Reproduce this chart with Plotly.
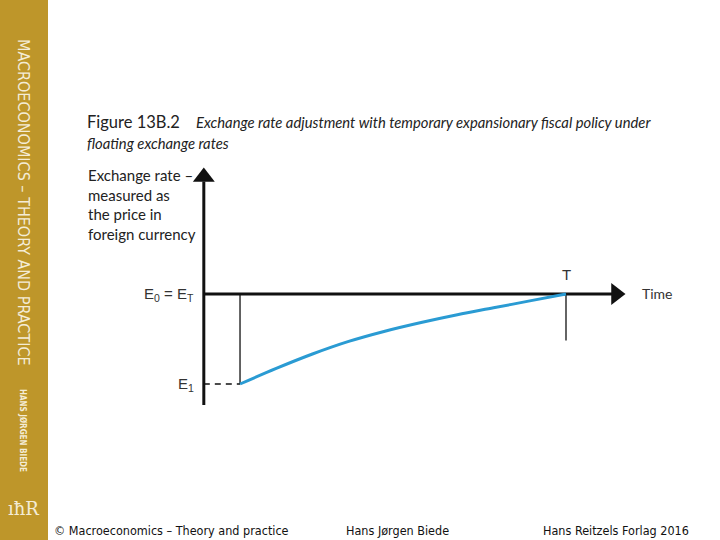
import plotly.graph_objects as go

# ---- data (economic units) ----
time_points = [1, 2, 3, 4, 5, 6, 7, 8, 9, 10]
exchange_rate = [0.70, 0.752, 0.80, 0.842, 0.876, 0.905, 0.931, 0.954, 0.977, 1.0]
E0 = 1.0
E1 = 0.70
T_time = 10
shock_time = 1
T_drop_low = 0.845
y_axis_bottom = 0.63
y_axis_top = 1.375
x_axis_end = 11.35

# axis ranges chosen so the diagram sits where it does in the reference
x_range = [-5.627, 14.252]
y_range = [0.18, 1.98]

fig = go.Figure()

black = "#111111"
# vertical axis
fig.add_trace(go.Scatter(x=[0, 0], y=[y_axis_bottom, y_axis_top], mode="lines",
                         line=dict(color=black, width=3), hoverinfo="skip"))
fig.add_trace(go.Scatter(x=[0], y=[1.39], mode="markers",
                         marker=dict(symbol="triangle-up", size=19, color=black), hoverinfo="skip"))
# horizontal axis at E0
fig.add_trace(go.Scatter(x=[0, x_axis_end], y=[E0, E0], mode="lines",
                         line=dict(color=black, width=3), hoverinfo="skip"))
fig.add_trace(go.Scatter(x=[11.38], y=[E0], mode="markers",
                         marker=dict(symbol="triangle-right", size=19, color=black), hoverinfo="skip"))
# drop line at shock time
fig.add_trace(go.Scatter(x=[shock_time, shock_time], y=[E0, E1], mode="lines",
                         line=dict(color=black, width=1.3), hoverinfo="skip"))
# dashed line at E1
fig.add_trace(go.Scatter(x=[0, shock_time], y=[E1, E1], mode="lines",
                         line=dict(color=black, width=1.3, dash="6px,5px"), hoverinfo="skip"))
# drop line at T
fig.add_trace(go.Scatter(x=[T_time, T_time], y=[E0, T_drop_low], mode="lines",
                         line=dict(color=black, width=1.3), hoverinfo="skip"))
# adjustment path
fig.add_trace(go.Scatter(x=time_points, y=exchange_rate, mode="lines",
                         line=dict(color="#2A9BD3", width=3, shape="spline", smoothing=1.0),
                         hoverinfo="skip"))

W, H = 720, 540
def px(x):
    return x / W
def py(y):
    return 1 - y / H

annotations = []
def note(x, y, text, size, family, color, xanchor="left", yanchor="middle", angle=0, align="left"):
    annotations.append(dict(x=px(x), y=py(y), xref="paper", yref="paper",
                            xanchor=xanchor, yanchor=yanchor, textangle=angle, align=align,
                            text=text, showarrow=False,
                            font=dict(family=family, size=size, color=color)))

side_font = "DejaVu Sans Condensed, Liberation Sans Narrow, Arial Narrow, sans-serif"
side_col = "#F4ECD6"
note(23, 202, "MACROECONOMICS – THEORY AND PRACTICE", 16, side_font, side_col, xanchor="center", angle=90)
note(23, 430, "<b>HANS JØRGEN BIEDE</b>", 8, side_font, side_col, xanchor="center", angle=90)
note(23, 509, "ıħR", 18, "DejaVu Serif, serif", side_col, xanchor="center")

title_font = "Lato, Open Sans, sans-serif"
note(85, 122, "Figure 13B.2", 16.5, title_font, "#222222")
note(194, 122, "<i>Exchange rate adjustment with temporary expansionary fiscal policy under</i>",
     14.8, title_font, "#222222")
note(85, 143, "<i>floating exchange rates</i>", 14.8, title_font, "#222222")

note(86, 164, "Exchange rate –<br>measured as<br>the price in<br>foreign currency",
     15, title_font, "#222222", yanchor="top")

lab_font = "Liberation Sans, Arial, sans-serif"
note(196, 294, "E<sub>0</sub> = E<sub>T</sub>", 15, lab_font, "#333333", xanchor="right")
note(196, 384, "E<sub>1</sub>", 15, lab_font, "#333333", xanchor="right")
note(566, 274, "T", 15, lab_font, "#333333", xanchor="center")
note(640, 293, "Time", 14, title_font, "#333333")

foot_font = "DejaVu Sans Condensed, Liberation Sans Narrow, Arial Narrow, sans-serif"
note(52, 530, "© Macroeconomics – Theory and practice", 12.5, foot_font, "#111111")
note(344, 530, "Hans Jørgen Biede", 12.5, foot_font, "#111111")
note(691, 530, "Hans Reitzels Forlag 2016", 12.5, foot_font, "#111111", xanchor="right")

fig.update_layout(
    width=W, height=H,
    margin=dict(l=0, r=0, t=0, b=0),
    paper_bgcolor="white", plot_bgcolor="white",
    showlegend=False,
    xaxis=dict(range=x_range, visible=False, fixedrange=True),
    yaxis=dict(range=y_range, visible=False, fixedrange=True),
    shapes=[dict(type="rect", xref="paper", yref="paper", x0=0, x1=px(48), y0=0, y1=1,
                 fillcolor="#BE962A", line=dict(width=0), layer="below")],
    annotations=annotations,
)

fig.write_html("out.html", config={"displayModeBar": False},
               post_script="document.body.style.margin='0px';document.body.style.overflow='hidden';")
